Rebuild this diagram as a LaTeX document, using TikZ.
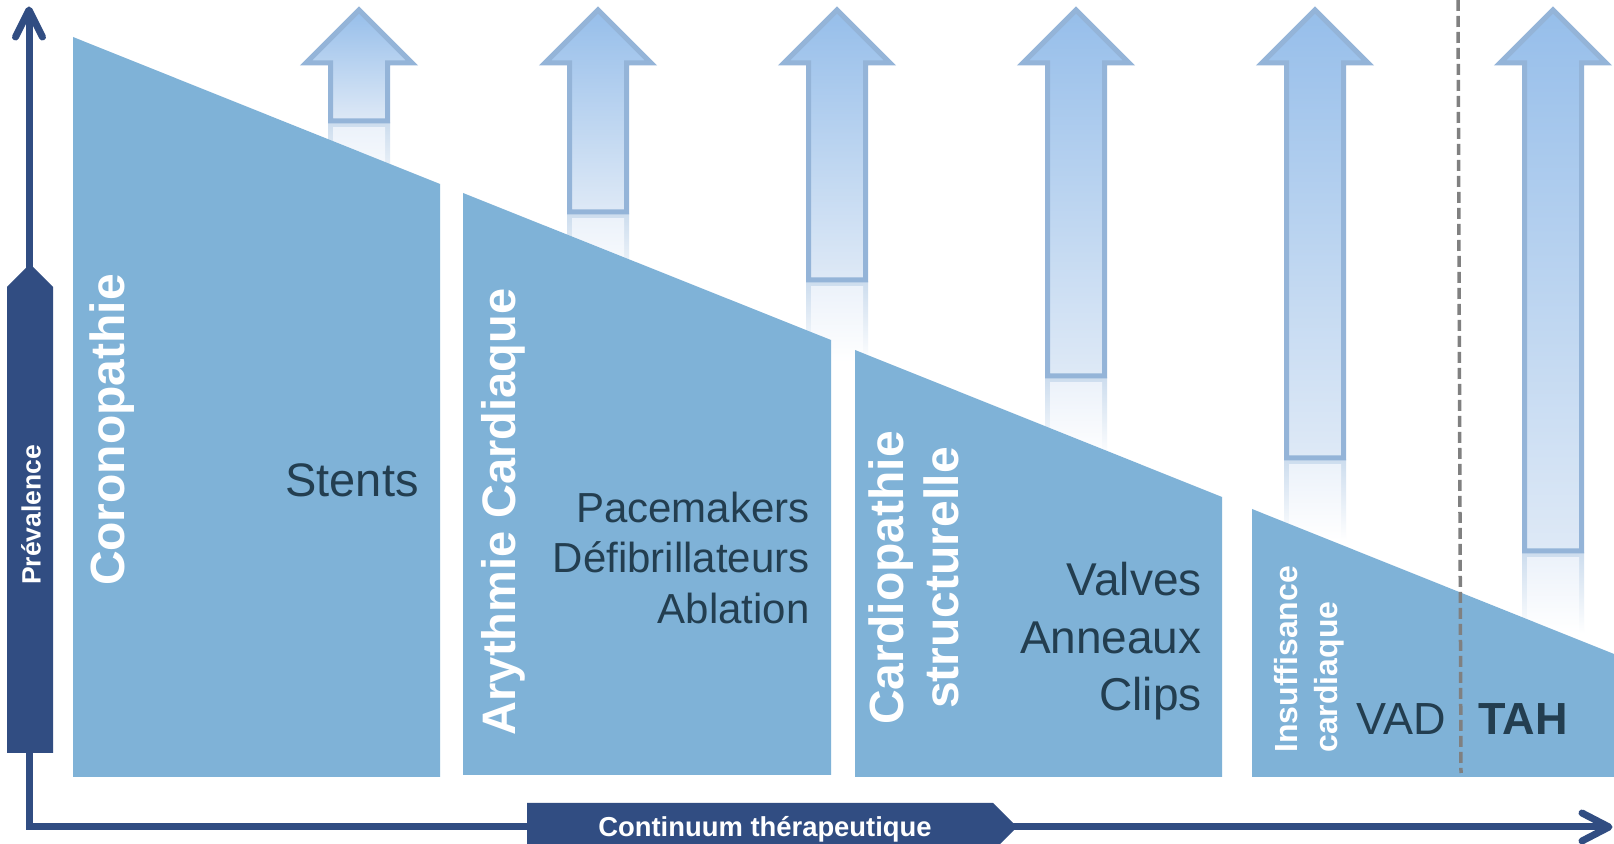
\documentclass[tikz,border=0pt]{standalone}
\usepackage{fontspec}
\setmainfont{Liberation Sans}
\usetikzlibrary{calc}
\definecolor{navy}{RGB}{49,77,130}
\definecolor{shapeblue}{RGB}{127,178,215}
\definecolor{darktxt}{RGB}{35,62,80}
\definecolor{arrline}{RGB}{148,180,216}
\definecolor{arrtop}{RGB}{150,190,234}
\definecolor{arrbot}{RGB}{222,233,246}
\definecolor{refl}{RGB}{236,242,250}
\definecolor{refline}{RGB}{205,221,238}
\definecolor{dashgray}{RGB}{128,128,128}
\tikzset{
  axisline/.style={navy, line width=3.5pt, line join=miter},
  headline/.style={navy, line width=3.5pt, line cap=round, line join=round},
  block/.style={fill=shapeblue},
  banner/.style={fill=navy},
  bigwhite/.style={text=white, font=\fontsize{24pt}{27.5pt}\selectfont\bfseries, rotate=90, inner sep=0pt, align=center},
  smallwhite/.style={text=white, font=\fontsize{16pt}{20pt}\selectfont\bfseries, rotate=90, inner sep=0pt, align=left, anchor=west},
  bannertext/.style={text=white, inner sep=0pt},
  darklabel/.style={text=darktxt, inner sep=0pt, anchor=base east},
  uparrowshape/.style={draw=arrline, line width=2.5pt, top color=arrtop, bottom color=arrbot},
  reflout/.style={top color=refline, bottom color=white},
  reflin/.style={top color=refl, bottom color=white},
  divider/.style={draw=dashgray, line width=1.75pt, dash pattern=on 5.5pt off 2.5pt},
}
\begin{document}
\begin{tikzpicture}[x=0.5pt, y=-0.5pt]
\useasboundingbox (0,0) rectangle (1614,844);
\clip (0,0) rectangle (1614,844);
\fill[white] (0,0) rectangle (1614,844);

% up arrows with reflections
\foreach \cx/\by in {359/121, 598/212, 837/280, 1076/376, 1315/458, 1553/551} {
  \path[reflout] (\cx-31,\by+2) rectangle (\cx+31,\by+82);
  \path[reflin] (\cx-26,\by+7) rectangle (\cx+26,\by+82);
  \path[uparrowshape] (\cx,10) -- (\cx+53,63) -- (\cx+28.5,63) -- (\cx+28.5,\by)
     -- (\cx-28.5,\by) -- (\cx-28.5,63) -- (\cx-53,63) -- cycle;
}

% blocks
\path[block] (73,37) -- (440,184) -- (440,777) -- (73,777) -- cycle;
\path[block] (463,193) -- (831,340) -- (831,775) -- (463,775) -- cycle;
\path[block] (855,350) -- (1222,497) -- (1222,777) -- (855,777) -- cycle;
\path[block] (1252,509) -- (1614,654) -- (1614,777) -- (1252,777) -- cycle;

% divider
\coordinate (dtop) at (1458,0);
\coordinate (dbot) at (1461,773);
\draw[divider] (dtop) -- (dbot);

% axes
\coordinate (ytip) at (29,10);
\coordinate (origin) at (29,827);
\coordinate (xtip) at (1609,827);
\draw[axisline] (ytip) -- (origin) -- (xtip);
\draw[headline] ($(ytip)+(-13.5,27)$) -- (ytip) -- ($(ytip)+(13.5,27)$);
\draw[headline] ($(xtip)+(-27,-14)$) -- (xtip) -- ($(xtip)+(-27,14)$);

% banners
\path[banner] (7,753) -- (7,287) -- (30,264) -- (53,287) -- (53,753) -- cycle;
\node[bannertext, rotate=90, font=\fontsize{13.25pt}{15pt}\selectfont\bfseries] (prev) at (31,515) {Prévalence};
\path[banner] (527,803) -- (993,803) -- (1017,827) -- (993,851) -- (527,851) -- cycle;
\node[bannertext, anchor=base, font=\fontsize{13.7pt}{16pt}\selectfont\bfseries] (cont) at (765,836) {Continuum thérapeutique};

% white category labels
\node[bigwhite] (cor) at (112,430) {Coronopathie};
\node[bigwhite, font=\fontsize{23.5pt}{27.5pt}\selectfont\bfseries] (ary) at (503,512) {Arythmie Cardiaque};
\node[bigwhite] (cardio) at (914,578) {Cardiopathie\\structurelle};
\node[smallwhite] (insuf) at (1309,753) {Insuffisance\\cardiaque};

% dark labels
\node[darklabel, font=\fontsize{23.5pt}{28pt}\selectfont] (stents) at (419,497) {Stents};
\node[darklabel, font=\fontsize{21pt}{25pt}\selectfont] (pace) at (810,523) {Pacemakers};
\node[darklabel, font=\fontsize{21pt}{25pt}\selectfont] (defib) at (810,573) {Défibrillateurs};
\node[darklabel, font=\fontsize{21pt}{25pt}\selectfont] (abl) at (810,624) {Ablation};
\node[darklabel, font=\fontsize{23pt}{27pt}\selectfont] (valves) at (1202,596) {Valves};
\node[darklabel, font=\fontsize{23pt}{27pt}\selectfont] (ann) at (1202,654) {Anneaux};
\node[darklabel, font=\fontsize{23pt}{27pt}\selectfont] (clips) at (1202,711) {Clips};
\node[darklabel, anchor=base west, font=\fontsize{22.5pt}{27pt}\selectfont] (vad) at (1356,735) {VAD};
\node[darklabel, anchor=base west, font=\fontsize{22.5pt}{27pt}\selectfont\bfseries] (tah) at (1478,735) {TAH};
\end{tikzpicture}
\end{document}
